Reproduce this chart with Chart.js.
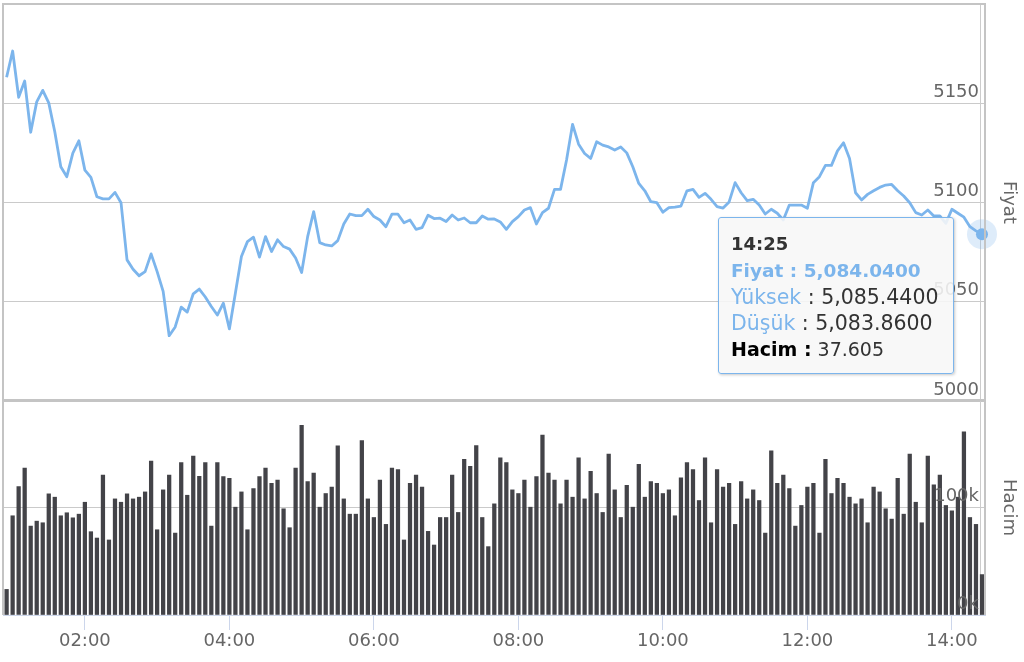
<!DOCTYPE html>
<html>
<head>
<meta charset="utf-8">
<script src="https://cdn.jsdelivr.net/npm/chart.js@4.4.1/dist/chart.umd.min.js"></script>
<style>
  html, body { margin: 0; padding: 0; background: #fff; }
  #wrap { position: relative; width: 1024px; height: 662px; overflow: hidden; font-family: "DejaVu Sans", sans-serif; }
  #priceCanvas { position: absolute; left: 0; top: 0; }
  #volCanvas { position: absolute; left: 0; top: 399px; }
  #tip {
    position: absolute; display: none; box-sizing: border-box;
    width: 236px; height: 157px; padding: 12px 12px;
    background: rgba(247, 247, 247, 0.88);
    border: 1.5px solid #7cb5ec; border-radius: 3px;
    box-shadow: 1px 1px 3px rgba(0, 0, 0, 0.22);
    font-size: 19px; line-height: 26px; color: #333; white-space: nowrap;
  }
  #tip .hd { font-size: 18px; font-weight: bold; color: #333; }
  #tip .blue { color: #7cb5ec; }
  #tip .strong { font-weight: bold; font-size: 18.5px; }
  #tip .wide { font-size: 20.5px; }
  #tip .black { color: #000; font-weight: bold; }
</style>
</head>
<body>
<div id="wrap">
  <canvas id="priceCanvas" width="1024" height="402"></canvas>
  <canvas id="volCanvas" width="1024" height="263"></canvas>
  <div id="tip"></div>
</div>
<script>
// Data (5 minute bars)
const startTime = "00:55";
const stepMinutes = 5;

const prices = [
  5163.1, 5176.3, 5153.0, 5161.2, 5135.4, 5150.7, 5156.5, 5150.2, 5135.6, 5118.0,
  5113.0, 5124.9, 5131.1, 5116.3, 5112.7, 5102.9, 5101.8, 5101.8, 5105.1, 5099.9,
  5071.1, 5066.4, 5063.1, 5065.2, 5074.1, 5065.2, 5055.2, 5032.9, 5037.3, 5047.3,
  5044.8, 5054.0, 5056.4, 5052.4, 5047.6, 5043.3, 5049.3, 5036.3, 5054.4, 5072.8,
  5080.3, 5082.5, 5072.5, 5082.8, 5075.3, 5081.2, 5077.8, 5076.5, 5072.0, 5064.7,
  5082.8, 5095.4, 5079.8, 5078.6, 5078.1, 5080.8, 5089.2, 5094.2, 5093.4, 5093.4,
  5096.6, 5092.9, 5091.2, 5087.8, 5094.1, 5094.1, 5089.8, 5091.2, 5086.5, 5087.3,
  5093.6, 5091.9, 5092.1, 5090.4, 5093.7, 5091.2, 5092.2, 5089.8, 5089.8, 5093.2,
  5091.6, 5091.7, 5090.2, 5086.5, 5090.4, 5092.9, 5096.2, 5097.4, 5089.2, 5094.9,
  5097.1, 5106.6, 5106.6, 5121.4, 5139.4, 5129.4, 5124.7, 5122.2, 5130.6, 5128.9,
  5128.0, 5126.4, 5128.0, 5125.0, 5118.0, 5109.6, 5105.9, 5100.4, 5099.9, 5095.1,
  5097.4, 5097.7, 5098.2, 5105.9, 5106.6, 5102.6, 5104.6, 5101.6, 5097.9, 5097.2,
  5100.3, 5110.0, 5104.9, 5100.9, 5101.6, 5098.7, 5094.2, 5096.6, 5094.6, 5091.2,
  5098.7, 5098.7, 5098.7, 5097.1, 5110.0, 5113.0, 5118.7, 5118.7, 5126.0, 5130.1,
  5122.2, 5104.9, 5101.3, 5104.1, 5105.9, 5107.6, 5108.8, 5109.1, 5105.9, 5103.3,
  5099.9, 5094.9, 5093.7, 5096.2, 5093.2, 5093.2, 5089.5, 5096.6, 5094.6, 5092.6,
  5087.8, 5085.7, 5084.04
];

const volumes = [
  23800, 92300, 119400, 136700, 82700, 87300, 85800, 112700, 109600, 92300,
  95100, 90400, 93800, 104900, 77500, 71600, 130200, 69800, 108000, 104900,
  112700, 108000, 109600, 114500, 143200, 79300, 116400, 130200, 76200, 141700,
  111400, 147800, 129000, 141700, 82700, 141700, 128700, 127200, 100300, 114500,
  79300, 117600, 128700, 136700, 122500, 125600, 98800, 81200, 136700, 176500,
  124100, 132100, 100300, 113000, 119100, 157400, 108000, 93800, 93800, 162300,
  108000, 90700, 125600, 84300, 136700, 135200, 69800, 122500, 130200, 119100,
  77800, 65100, 90700, 90700, 130200, 95400, 144800, 138300, 157700, 90700,
  63600, 103400, 146300, 141700, 116400, 113000, 125600, 100300, 128700, 167300,
  132100, 125600, 103400, 125600, 109600, 146300, 108000, 133600, 113000, 95400,
  149700, 116400, 90700, 120700, 100300, 140100, 109600, 124100, 122500, 113000,
  116400, 92300, 127500, 141700, 135200, 106500, 146300, 85800, 135200, 119100,
  122500, 84300, 124100, 108000, 116400, 106500, 76200, 152800, 122500, 130200,
  117600, 82700, 101900, 119100, 122500, 76200, 144800, 113000, 127200, 122500,
  109600, 103400, 108000, 85800, 119100, 114500, 98800, 89200, 127200, 93800,
  149700, 104900, 85800, 147800, 121000, 130200, 101900, 96900, 109600, 170400,
  90700, 84300, 37605
];

const xTickLabels = ["02:00", "04:00", "06:00", "08:00", "10:00", "12:00", "14:00"];
const priceTicks = [5000, 5050, 5100, 5150, 5200];
const volumeTicks = [0, 100000, 200000];

// hovered bar extras shown in the tooltip
const hoverHigh = 5085.44;
const hoverLow = 5083.86;

// Helpers
const toMin = s => { const [h, m] = s.split(":").map(Number); return h * 60 + m; };
const fmtTime = m => String(Math.floor(m / 60)).padStart(2, "0") + ":" + String(m % 60).padStart(2, "0");
const fmtPrice = v => v.toLocaleString("en-US", { minimumFractionDigits: 4, maximumFractionDigits: 4 });
const fmtVol = v => String(Math.round(v)).replace(/\B(?=(\d{3})+(?!\d))/g, ".");

const times = prices.map((_, i) => toMin(startTime) + i * stepMinutes);
const lastIndex = prices.length - 1;
const xMin = 52, xMax = 867.5;

const FONT = "DejaVu Sans";
const blue = "#7cb5ec";
const gridColor = "#cacaca";
const frameColor = "#c4c4c4";
Chart.defaults.font.family = FONT;

// Plugins
const panelFrame = {
  id: "panelFrame",
  afterDraw(chart, args, opts) {
    const { ctx, chartArea: a } = chart;
    ctx.save();
    ctx.strokeStyle = frameColor;
    ctx.lineWidth = 2;
    ctx.beginPath();
    ctx.moveTo(a.left, a.bottom); ctx.lineTo(a.left, a.top);
    ctx.lineTo(a.right, a.top); ctx.lineTo(a.right, a.bottom);
    if (opts.bottom) ctx.lineTo(a.left, a.bottom);
    ctx.stroke();
    ctx.restore();
  }
};

const crosshair = {
  id: "crosshair",
  beforeDatasetsDraw(chart) {
    const { ctx, chartArea: a } = chart;
    const x = Math.round(chart.scales.x.getPixelForValue(times[lastIndex])) - 1.5;
    ctx.save();
    ctx.strokeStyle = "#cccccc";
    ctx.lineWidth = 1;
    ctx.beginPath();
    ctx.moveTo(x, a.top); ctx.lineTo(x, a.bottom);
    ctx.stroke();
    ctx.restore();
  }
};

const hoverMarker = {
  id: "hoverMarker",
  afterDatasetsDraw(chart) {
    const pt = chart.getDatasetMeta(0).data[lastIndex];
    const { ctx } = chart;
    ctx.save();
    ctx.fillStyle = "rgba(124,181,236,0.25)";
    ctx.beginPath(); ctx.arc(pt.x, pt.y, 15, 0, Math.PI * 2); ctx.fill();
    ctx.fillStyle = blue;
    ctx.beginPath(); ctx.arc(pt.x, pt.y, 6, 0, Math.PI * 2); ctx.fill();
    ctx.restore();
  }
};

function renderTooltip({ tooltip }) {
  const tip = document.getElementById("tip");
  if (!tooltip.dataPoints || !tooltip.dataPoints.length) { tip.style.display = "none"; return; }
  const dp = tooltip.dataPoints[0];
  const i = dp.dataIndex;
  tip.innerHTML =
    '<span class="hd">' + fmtTime(times[i]) + '</span><br>' +
    '<span class="blue strong">Fiyat : ' + fmtPrice(prices[i]) + '</span><br>' +
    '<span class="wide"><span class="blue">Yüksek</span> : ' + fmtPrice(hoverHigh) + '</span><br>' +
    '<span class="wide"><span class="blue">Düşük</span> : ' + fmtPrice(hoverLow) + '</span><br>' +
    '<span class="black">Hacim :</span> ' + fmtVol(volumes[i]);
  tip.style.left = (dp.element.x - 264) + "px";
  tip.style.top = (dp.element.y - 17) + "px";
  tip.style.display = "block";
}

const tickFont = { family: FONT, size: 18 };

// Price panel
const priceChart = new Chart(document.getElementById("priceCanvas"), {
  type: "line",
  data: {
    datasets: [{
      label: "Fiyat",
      data: times.map((t, i) => ({ x: t, y: prices[i] })),
      borderColor: blue,
      borderWidth: 2.8,
      pointRadius: 0,
      tension: 0,
      borderJoinStyle: "round"
    }]
  },
  options: {
    responsive: false,
    animation: false,
    events: [],
    layout: { padding: { left: 3, top: 4, right: 0, bottom: 1 } },
    scales: {
      x: { type: "linear", min: xMin, max: xMax, display: false },
      y: {
        position: "right",
        min: priceTicks[0],
        max: priceTicks[priceTicks.length - 1],
        afterBuildTicks: s => { s.ticks = priceTicks.map(v => ({ value: v })); },
        afterFit: s => { s.width = 39; s.paddingTop = 0; s.paddingBottom = 0; },
        grid: { color: gridColor, lineWidth: 1, drawTicks: false },
        border: { display: false },
        ticks: {
          mirror: true, padding: -6, labelOffset: -11, color: "#666", font: tickFont,
          callback: (v, i, arr) => i === arr.length - 1 ? "" : String(v)
        },
        title: { display: true, text: "Fiyat", color: "#666", font: tickFont, padding: { top: 5, bottom: 0 } }
      }
    },
    plugins: {
      legend: { display: false },
      panelFrame: { bottom: true },
      tooltip: { enabled: false, external: renderTooltip }
    }
  },
  plugins: [panelFrame, crosshair, hoverMarker]
});

// Volume panel
const volChart = new Chart(document.getElementById("volCanvas"), {
  type: "bar",
  data: {
    datasets: [{
      label: "Hacim",
      data: times.map((t, i) => ({ x: t, y: volumes[i] })),
      backgroundColor: "#434348",
      borderWidth: 0,
      barThickness: 3.6
    }]
  },
  options: {
    responsive: false,
    animation: false,
    events: [],
    layout: { padding: { left: 3, top: 1, right: 0, bottom: 0 } },
    scales: {
      x: {
        type: "linear", min: xMin, max: xMax, offset: false,
        afterBuildTicks: s => { s.ticks = xTickLabels.map(l => ({ value: toMin(l) })); },
        afterFit: s => { s.height = 47; s.paddingLeft = 0; s.paddingRight = 0; },
        grid: { offset: false, drawOnChartArea: false, drawTicks: true, tickLength: 15, tickColor: "#ccd6eb", lineWidth: 1 },
        border: { display: true, color: "#ccd6eb", width: 1 },
        ticks: { color: "#666", font: tickFont, padding: 1, maxRotation: 0, autoSkip: false,
          callback: (v, i) => xTickLabels[i] }
      },
      y: {
        position: "right",
        min: volumeTicks[0],
        max: volumeTicks[volumeTicks.length - 1],
        afterBuildTicks: s => { s.ticks = volumeTicks.map(v => ({ value: v })); },
        afterFit: s => { s.width = 39; s.paddingTop = 0; s.paddingBottom = 0; },
        grid: { color: gridColor, lineWidth: 1, drawTicks: false },
        border: { display: false },
        ticks: {
          mirror: true, padding: -6, labelOffset: -11, color: "#666", font: tickFont, z: 1,
          callback: (v, i, arr) => i === arr.length - 1 ? "" : (v / 1000) + "k"
        },
        title: { display: true, text: "Hacim", color: "#666", font: tickFont, padding: { top: 5, bottom: 0 } }
      }
    },
    plugins: {
      legend: { display: false },
      tooltip: { enabled: false },
      panelFrame: { bottom: false }
    }
  },
  plugins: [panelFrame, crosshair]
});

// Show the hover state for the last bar, like the reference
priceChart.tooltip.setActiveElements([{ datasetIndex: 0, index: lastIndex }], { x: 0, y: 0 });
</script>
</body>
</html>
